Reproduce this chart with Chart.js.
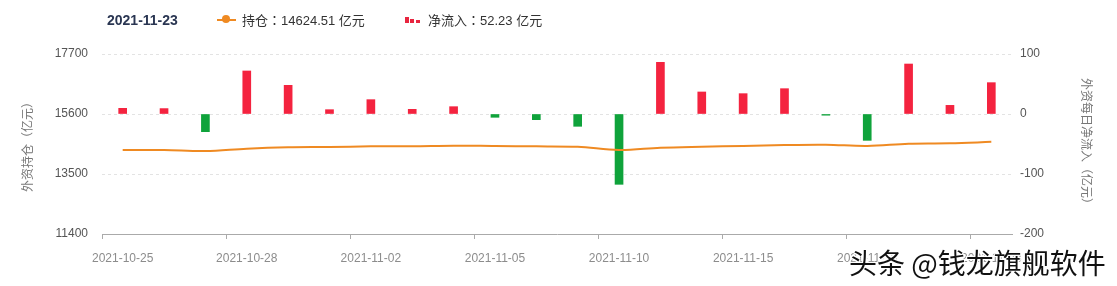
<!DOCTYPE html>
<html>
<head>
<meta charset="utf-8">
<script src="https://cdn.jsdelivr.net/npm/chart.js@4/dist/chart.umd.min.js"></script>
<style>
    html, body { margin: 0; padding: 0; background: #fff; }
    #wrap { position: relative; width: 1117px; height: 286px; overflow: hidden; }
    #chart { position: absolute; left: 0; top: 0; }
    .hd { position: absolute; font-family: "Liberation Sans", "Noto Sans CJK SC", sans-serif; font-size: 13px; color: #333; line-height: 16px; white-space: nowrap; }
    .colon { font-family: "Noto Sans CJK TC", sans-serif; }
    #date { left: 107px; top: 12px; font-size: 14px; font-weight: bold; color: #2a3652; }
    #lg1icon { position: absolute; left: 217px; top: 19px; width: 19px; height: 2px; background: #ef8a22; }
    #lg1icon:after { content: ""; position: absolute; left: 5px; top: -4px; width: 8px; height: 8px; border-radius: 50%; background: #ef8a22; }
    #lg1 { left: 242px; top: 12px; }
    .bi { position: absolute; background: #e8253f; width: 4px; }
    #lg2 { left: 428px; top: 12px; }
    #mark { position: absolute; left: 849px; top: 245px; font-family: "Noto Sans CJK SC", sans-serif; font-size: 28px; line-height: 34px; color: #111;
            text-shadow: -1px -1px 0 #fff, 1px -1px 0 #fff, -1px 1px 0 #fff, 1px 1px 0 #fff, 0 0 3px #fff; white-space: nowrap; }
</style>
</head>
<body>
<div id="wrap">
    <canvas id="chart" width="1117" height="286"></canvas>
    <div class="hd" id="date">2021-11-23</div>
    <div id="lg1icon"></div>
    <div class="hd" id="lg1">持仓<span class="colon">：</span>14624.51 亿元</div>
    <div class="bi" style="left:405px;top:17px;height:6px;"></div>
    <div class="bi" style="left:410px;top:19px;height:4px;"></div>
    <div class="bi" style="left:416px;top:20px;height:3px;"></div>
    <div class="hd" id="lg2">净流入<span class="colon">：</span>52.23 亿元</div>
    <div id="mark">头条 @钱龙旗舰软件</div>
</div>
<script>
// trading days shown on the x axis
const categories = [
    '2021-10-25', '2021-10-26', '2021-10-27', '2021-10-28', '2021-10-29',
    '2021-11-01', '2021-11-02', '2021-11-03', '2021-11-04', '2021-11-05',
    '2021-11-08', '2021-11-09', '2021-11-10', '2021-11-11', '2021-11-12',
    '2021-11-15', '2021-11-16', '2021-11-17', '2021-11-18', '2021-11-19',
    '2021-11-22', '2021-11-23'
];
// daily net inflow (亿元), right axis
const netInflow = [
    9.5, 9, -29.5, 71.7, 47.8, 7.2, 23.9, 7.8, 12.2, -5.5, -9.5,
    -20.5, -117.2, 86.1, 36.7, 33.9, 42.2, -2, -43.9, 83.3, 14.4, 52.23
];
// holdings (亿元), left axis
const holdings = [
    14340, 14340, 14305, 14386, 14433, 14445, 14468, 14470, 14492, 14480, 14468,
    14452, 14340, 14421, 14456, 14480, 14515, 14526, 14480, 14561, 14573, 14624.51
];
const leftTicks = [11400, 13500, 15600, 17700];
const rightTicks = [-200, -100, 0, 100];

const FONT = '"Liberation Sans", "Noto Sans CJK SC", sans-serif';
const RED = '#f4233f';
const GREEN = '#0fa33b';

Chart.defaults.font.family = FONT;

new Chart(document.getElementById('chart').getContext('2d'), {
    data: {
        labels: categories,
        datasets: [
            {
                type: 'line',
                label: '持仓',
                data: holdings,
                yAxisID: 'yL',
                borderColor: '#ef8a22',
                borderWidth: 2,
                pointRadius: 0,
                tension: 0.35,
                order: 0
            },
            {
                type: 'bar',
                label: '净流入',
                data: netInflow,
                yAxisID: 'yR',
                backgroundColor: netInflow.map(v => v >= 0 ? RED : GREEN),
                barThickness: 8,
                order: 1
            }
        ]
    },
    options: {
        responsive: false,
        animation: false,
        devicePixelRatio: 1,
        layout: { padding: { top: 54, left: 0, right: 0, bottom: 0 } },
        plugins: { legend: { display: false }, tooltip: { enabled: false } },
        scales: {
            x: {
                offset: true,
                afterFit: s => { s.height = 52; },
                grid: {
                    offset: true,
                    drawOnChartArea: false,
                    tickLength: 5,
                    color: ctx => ctx.index % 3 === 0 ? '#aaaaaa' : 'rgba(0,0,0,0)'
                },
                border: { color: '#aaaaaa', width: 1 },
                ticks: {
                    autoSkip: false,
                    maxRotation: 0,
                    padding: 12,
                    color: '#8c8c8c',
                    font: { size: 12 },
                    callback: (v, i) => i % 3 === 0 ? categories[i] : ''
                }
            },
            yL: {
                position: 'left',
                min: 11400,
                max: 17700,
                afterBuildTicks: s => { s.ticks = leftTicks.map(v => ({ value: v })); },
                afterFit: s => { s.width = 102; },
                grid: {
                    drawTicks: false,
                    color: ctx => ctx.tick && ctx.tick.value === 11400 ? 'rgba(0,0,0,0)' : '#e3e3e3'
                },
                border: { display: false, dash: [3, 3] },
                ticks: { padding: 14, color: '#555', font: { size: 12 }, callback: v => String(v) },
                title: {
                    display: true,
                    text: '外资持仓（亿元）',
                    color: '#777',
                    font: { size: 12 },
                    padding: { top: 21, bottom: 0 }
                }
            },
            yR: {
                position: 'right',
                min: -200,
                max: 100,
                afterBuildTicks: s => { s.ticks = rightTicks.map(v => ({ value: v })); },
                afterFit: s => { s.width = 105; },
                grid: { drawOnChartArea: false, drawTicks: false },
                border: { display: false },
                ticks: { padding: 8, color: '#555', font: { size: 12 }, callback: v => String(v) },
                title: {
                    display: true,
                    text: '外资每日净流入（亿元）',
                    color: '#777',
                    font: { size: 12 },
                    padding: { top: 24, bottom: 0 }
                }
            }
        }
    }
});
</script>
</body>
</html>
